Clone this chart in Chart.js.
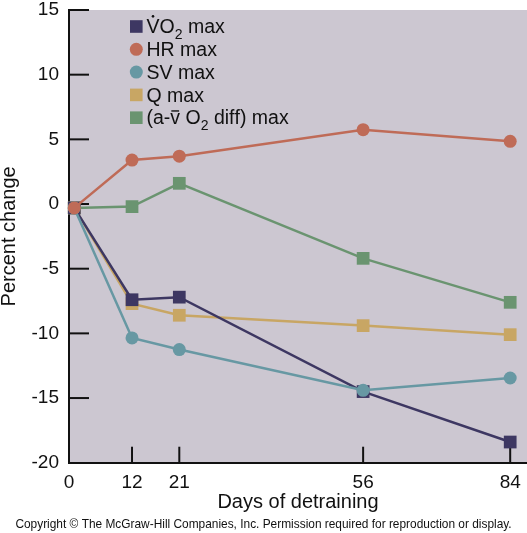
<!DOCTYPE html>
<html>
<head>
<meta charset="utf-8">
<script src="https://cdn.jsdelivr.net/npm/chart.js@4/dist/chart.umd.min.js"></script>
<style>
  body { margin: 0; background: #fff; }
  canvas { display: block; }
</style>
</head>
<body>
<canvas id="chart" width="527" height="533"></canvas>
<script>
// data
const days = [1, 12, 21, 56, 84];
const dayTicks = [0, 12, 21, 56, 84];
const percentTicks = [-20, -15, -10, -5, 0, 5, 10, 15];

const vo2Max = [-0.3, -7.4, -7.2, -14.5, -18.4];
const hrMax = [-0.3, 3.4, 3.7, 5.75, 4.85];
const svMax = [-0.3, -10.35, -11.25, -14.4, -13.45];
const qMax = [-0.3, -7.7, -8.6, -9.4, -10.1];
const avDiffMax = [-0.3, -0.2, 1.6, -4.2, -7.6];

const seriesLabels = ["V\u0307O\u2082 max", "HR max", "SV max", "Q max", "(a-v\u0304 O\u2082 diff) max"];

const FONT = "'Liberation Sans', Arial, Helvetica, sans-serif";
const plotBg = "#ccc7d1";

function pts(vals) {
  return vals.map((v, i) => ({ x: days[i], y: v }));
}

function makeSet(label, vals, color, style, order) {
  return {
    label: label,
    data: pts(vals),
    borderColor: color,
    backgroundColor: color,
    borderWidth: 2.5,
    pointStyle: style,
    pointRadius: style === "rect" ? 9 : 6.5,
    pointBorderWidth: 0,
    pointHoverRadius: style === "rect" ? 9 : 6.5,
    order: order,
    tension: 0,
    clip: false
  };
}

// grey plot area
const bgPlugin = {
  id: "plotBg",
  beforeDraw(chart) {
    const { ctx, chartArea: a } = chart;
    ctx.save();
    ctx.fillStyle = plotBg;
    ctx.fillRect(a.left, a.top, a.right - a.left, a.bottom - a.top);
    ctx.restore();
  }
};

// tick marks pointing into the plot
const innerTicks = {
  id: "innerTicks",
  beforeDatasetsDraw(chart) {
    const { ctx, chartArea: a, scales } = chart;
    ctx.save();
    ctx.strokeStyle = "#111";
    ctx.lineWidth = 2;
    percentTicks.forEach(v => {
      if (v === -20) return;
      const y = scales.y.getPixelForValue(v);
      ctx.beginPath();
      ctx.moveTo(a.left, y);
      ctx.lineTo(a.left + 20, y);
      ctx.stroke();
    });
    dayTicks.forEach(v => {
      if (v === 0) return;
      const x = scales.x.getPixelForValue(v);
      ctx.beginPath();
      ctx.moveTo(x, a.bottom);
      ctx.lineTo(x, a.bottom - 16);
      ctx.stroke();
    });
    ctx.restore();
  }
};

// draws a label, handling subscript 2 and combining dot / macron
function drawRich(ctx, text, x, y, size) {
  let cx = x;
  let prevW = 0;
  for (const ch of text) {
    if (ch === "\u2082") {
      ctx.font = (size * 0.72) + "px " + FONT;
      ctx.fillText("2", cx, y + size * 0.28);
      prevW = ctx.measureText("2").width;
      cx += prevW;
      ctx.font = size + "px " + FONT;
    } else if (ch === "\u0307") {
      ctx.beginPath();
      ctx.arc(cx - prevW / 2, y - size * 0.86, 1.3, 0, Math.PI * 2);
      ctx.fill();
    } else if (ch === "\u0304") {
      ctx.fillRect(cx - prevW + 1, y - size * 0.72, prevW - 2, 1.4);
    } else {
      ctx.fillText(ch, cx, y);
      prevW = ctx.measureText(ch).width;
      cx += prevW;
    }
  }
}

const legendPlugin = {
  id: "insideLegend",
  afterDraw(chart) {
    const { ctx } = chart;
    const size = 19.5;
    ctx.save();
    ctx.textBaseline = "alphabetic";
    ctx.font = size + "px " + FONT;
    chart.data.datasets.forEach((ds, i) => {
      const yc = 26.5 + i * 22.8;
      ctx.fillStyle = ds.backgroundColor;
      if (ds.pointStyle === "rect") {
        ctx.fillRect(130, yc - 6.3, 12.6, 12.6);
      } else {
        ctx.beginPath();
        ctx.arc(136.3, yc, 6.5, 0, Math.PI * 2);
        ctx.fill();
      }
      ctx.fillStyle = "#111";
      drawRich(ctx, ds.label, 146.5, yc + 6.6, size);
    });
    ctx.restore();
  }
};

const chart = new Chart(document.getElementById("chart").getContext("2d"), {
  type: "line",
  data: {
    datasets: [
      makeSet(seriesLabels[0], vo2Max, "#3d3762", "rect", 2),
      makeSet(seriesLabels[1], hrMax, "#bf6b57", "circle", 0),
      makeSet(seriesLabels[2], svMax, "#6798a3", "circle", 1),
      makeSet(seriesLabels[3], qMax, "#c8a664", "rect", 3),
      makeSet(seriesLabels[4], avDiffMax, "#6a9470", "rect", 4)
    ]
  },
  options: {
    responsive: false,
    devicePixelRatio: 1,
    animation: false,
    layout: { autoPadding: false, padding: { top: 10, right: 0, left: 0, bottom: 0 } },
    plugins: {
      legend: { display: false },
      tooltip: { enabled: false },
      title: {
        display: true,
        position: "bottom",
        text: "Copyright \u00a9 The McGraw-Hill Companies, Inc. Permission required for reproduction or display.",
        color: "#111",
        font: { family: FONT, size: 11.9, weight: "normal", lineHeight: 1.2 },
        padding: { top: 0, bottom: 1 }
      }
    },
    scales: {
      x: {
        type: "linear",
        min: 0,
        max: 87.2,
        afterBuildTicks: s => { s.ticks = dayTicks.map(v => ({ value: v })); },
        afterFit: s => { s.height = 55; s.paddingLeft = 0; s.paddingRight = 0; },
        grid: { display: false, drawTicks: false },
        border: { display: true, color: "#111", width: 2 },
        ticks: {
          color: "#111",
          padding: 9,
          maxRotation: 0,
          font: { family: FONT, size: 19 }
        },
        title: {
          display: true,
          text: "Days of detraining",
          color: "#111",
          font: { family: FONT, size: 20 },
          padding: { top: 0, bottom: 3 }
        }
      },
      y: {
        min: -20,
        max: 15,
        afterBuildTicks: s => { s.ticks = percentTicks.map(v => ({ value: v })); },
        afterFit: s => { s.width = 69; s.paddingTop = 0; s.paddingBottom = 0; },
        grid: { display: false, drawTicks: false },
        border: { display: true, color: "#111", width: 2 },
        ticks: {
          color: "#111",
          padding: 10,
          font: { family: FONT, size: 19 }
        },
        title: {
          display: true,
          text: "Percent change",
          color: "#111",
          font: { family: FONT, size: 20, lineHeight: 0.9 },
          padding: { top: 0, bottom: 0 }
        }
      }
    }
  },
  plugins: [bgPlugin, innerTicks, legendPlugin]
});
</script>
</body>
</html>
